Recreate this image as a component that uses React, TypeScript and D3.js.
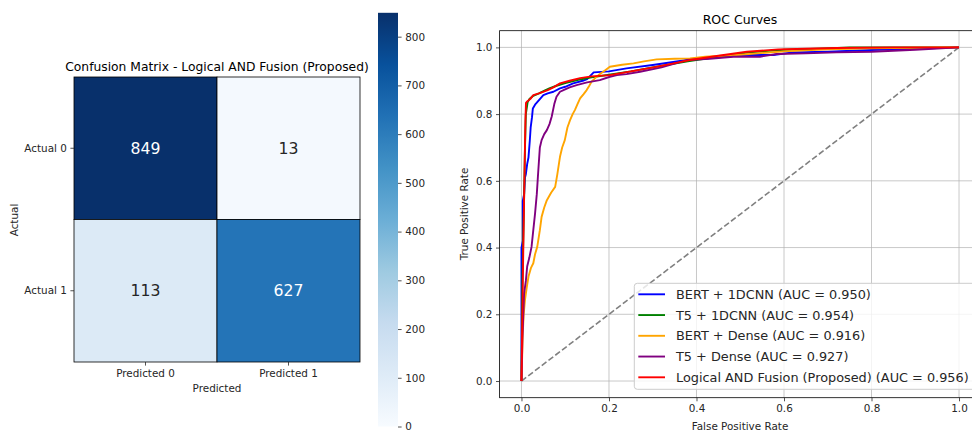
import { useEffect, useRef } from 'react';
import * as d3 from 'd3';

// Confusion matrix
const predLabels = ['Predicted 0', 'Predicted 1'];
const actualLabels = ['Actual 0', 'Actual 1'];
const cmValues = [
  [849, 13],
  [113, 627],
];
const cbTicks = [0, 100, 200, 300, 400, 500, 600, 700, 800];
const bluesStops = ['#f7fbff', '#deebf7', '#c6dbef', '#9ecae1', '#6baed6', '#4292c6', '#2171b5', '#08519c', '#08306b'];

// ROC curves
const rocNames = [
  'BERT + 1DCNN (AUC = 0.950)',
  'T5 + 1DCNN (AUC = 0.954)',
  'BERT + Dense (AUC = 0.916)',
  'T5 + Dense (AUC = 0.927)',
  'Logical AND Fusion (Proposed) (AUC = 0.956)',
];
const rocColors = ['#0000ff', '#008000', '#ffa500', '#800080', '#ff0000'];

const bertCnnFpr = [0, 0, 0.003, 0.003, 0.006, 0.008, 0.010, 0.013, 0.016, 0.019, 0.021, 0.024, 0.026, 0.032, 0.042, 0.05, 0.06, 0.073, 0.088, 0.1, 0.118, 0.14, 0.15, 0.165, 0.20, 0.24, 0.30, 0.378, 0.45, 0.515, 0.576, 0.62, 0.70, 0.80, 0.90, 1.0];
const bertCnnTpr = [0, 0.40, 0.42, 0.54, 0.56, 0.61, 0.62, 0.65, 0.67, 0.72, 0.76, 0.79, 0.817, 0.83, 0.845, 0.857, 0.862, 0.867, 0.877, 0.882, 0.892, 0.900, 0.905, 0.925, 0.928, 0.937, 0.947, 0.962, 0.97, 0.977, 0.977, 0.985, 0.987, 0.992, 0.996, 1.0];

const t5CnnFpr = [0, 0.002, 0.004, 0.006, 0.008, 0.010, 0.014, 0.018, 0.027, 0.04, 0.055, 0.065, 0.08, 0.1, 0.13, 0.16, 0.2, 0.25, 0.3, 0.38, 0.45, 0.52, 0.6, 0.68, 0.75, 0.85, 1.0];
const t5CnnTpr = [0, 0.30, 0.42, 0.55, 0.70, 0.80, 0.835, 0.845, 0.855, 0.862, 0.872, 0.878, 0.885, 0.893, 0.903, 0.91, 0.918, 0.928, 0.94, 0.958, 0.972, 0.985, 0.993, 0.996, 1.0, 1.0, 1.0];

const bertDenseFpr = [0, 0.003, 0.005, 0.008, 0.012, 0.016, 0.022, 0.027, 0.031, 0.036, 0.042, 0.046, 0.052, 0.058, 0.068, 0.077, 0.082, 0.088, 0.093, 0.099, 0.105, 0.111, 0.117, 0.122, 0.128, 0.134, 0.142, 0.149, 0.155, 0.160, 0.168, 0.176, 0.19, 0.202, 0.23, 0.256, 0.28, 0.309, 0.35, 0.385, 0.42, 0.5, 0.6, 0.7, 0.8, 0.9, 1.0];
const bertDenseTpr = [0, 0.143, 0.2, 0.243, 0.28, 0.313, 0.34, 0.353, 0.38, 0.402, 0.452, 0.492, 0.52, 0.542, 0.565, 0.582, 0.62, 0.672, 0.70, 0.722, 0.76, 0.782, 0.80, 0.812, 0.83, 0.847, 0.86, 0.872, 0.885, 0.897, 0.907, 0.917, 0.93, 0.942, 0.948, 0.952, 0.958, 0.964, 0.966, 0.967, 0.972, 0.978, 0.988, 0.994, 0.997, 0.999, 1.0];

const t5DenseFpr = [0, 0.002, 0.004, 0.006, 0.01, 0.013, 0.018, 0.023, 0.027, 0.031, 0.035, 0.038, 0.042, 0.046, 0.052, 0.058, 0.064, 0.069, 0.075, 0.080, 0.088, 0.096, 0.11, 0.126, 0.15, 0.179, 0.202, 0.218, 0.24, 0.271, 0.32, 0.378, 0.43, 0.484, 0.545, 0.583, 0.65, 0.72, 0.8, 0.9, 1.0];
const t5DenseTpr = [0, 0.12, 0.193, 0.263, 0.30, 0.343, 0.37, 0.402, 0.452, 0.502, 0.56, 0.622, 0.70, 0.722, 0.74, 0.752, 0.77, 0.792, 0.83, 0.852, 0.867, 0.872, 0.88, 0.887, 0.895, 0.902, 0.912, 0.917, 0.92, 0.927, 0.94, 0.962, 0.966, 0.972, 0.972, 0.980, 0.982, 0.985, 0.987, 0.993, 1.0];

const fusionFpr = [0, 0.003, 0.006, 0.009, 0.0103, 0.013, 0.02, 0.027, 0.04, 0.06, 0.073, 0.088, 0.11, 0.134, 0.16, 0.202, 0.25, 0.301, 0.385, 0.45, 0.515, 0.587, 0.65, 0.72, 0.85, 1.0];
const fusionTpr = [0, 0.3, 0.55, 0.78, 0.834, 0.838, 0.845, 0.857, 0.862, 0.872, 0.880, 0.892, 0.90, 0.908, 0.913, 0.917, 0.928, 0.940, 0.962, 0.975, 0.987, 0.994, 0.996, 0.998, 1.0, 1.0];

const rocFpr = [bertCnnFpr, t5CnnFpr, bertDenseFpr, t5DenseFpr, fusionFpr];
const rocTpr = [bertCnnTpr, t5CnnTpr, bertDenseTpr, t5DenseTpr, fusionTpr];
const rocTicks = [0, 0.2, 0.4, 0.6, 0.8, 1.0];

const FONT = '"DejaVu Sans", sans-serif';
const TXT = '#262626';

const App = () => {
  const svgRef = useRef(null);

  useEffect(() => {
    document.body.style.margin = '0';
    document.body.style.overflow = 'hidden';

    const svg = d3.select(svgRef.current);
    svg.selectAll('*').remove();
    svg.style('font-family', FONT);

    // ---------- Confusion matrix ----------
    const xBand = d3.scaleBand().domain(predLabels).range([74, 360]);
    const yBand = d3.scaleBand().domain(actualLabels).range([77, 362]);
    const vmax = d3.max(cmValues.flat());
    const color = d3.scaleLinear()
      .domain(d3.range(bluesStops.length).map(i => (i / (bluesStops.length - 1)) * vmax))
      .range(bluesStops);

    const cells = [];
    actualLabels.forEach((a, i) => predLabels.forEach((p, j) => cells.push({ a, p, v: cmValues[i][j] })));

    const hm = svg.append('g');
    hm.selectAll('rect')
      .data(cells)
      .enter()
      .append('rect')
      .attr('x', d => xBand(d.p))
      .attr('y', d => yBand(d.a))
      .attr('width', xBand.bandwidth())
      .attr('height', yBand.bandwidth())
      .attr('fill', d => color(d.v))
      .attr('stroke', '#000')
      .attr('stroke-width', 0.8);

    hm.selectAll('text.annot')
      .data(cells)
      .enter()
      .append('text')
      .attr('x', d => xBand(d.p) + xBand.bandwidth() / 2)
      .attr('y', d => yBand(d.a) + yBand.bandwidth() / 2)
      .attr('text-anchor', 'middle')
      .attr('dominant-baseline', 'central')
      .style('font-size', '15.7px')
      .style('fill', d => (d.v > vmax * 0.6 ? '#ffffff' : TXT))
      .text(d => d.v);

    // heatmap axes
    const hx = svg.append('g')
      .attr('transform', 'translate(0,362)')
      .call(d3.axisBottom(xBand).tickSize(3.6).tickPadding(3.6));
    const hy = svg.append('g')
      .attr('transform', 'translate(74,0)')
      .call(d3.axisLeft(yBand).tickSize(3.6).tickPadding(3.6));
    [hx, hy].forEach(ax => {
      ax.select('.domain').remove();
      ax.selectAll('.tick line').attr('stroke', TXT).attr('stroke-width', 0.8);
      ax.selectAll('text').style('font-size', '10.4px').style('fill', TXT).style('font-family', FONT);
    });

    svg.append('text')
      .attr('x', 217).attr('y', 71)
      .attr('text-anchor', 'middle')
      .style('font-size', '12.3px').style('fill', '#000')
      .text('Confusion Matrix - Logical AND Fusion (Proposed)');
    svg.append('text')
      .attr('x', 217).attr('y', 392)
      .attr('text-anchor', 'middle')
      .style('font-size', '10.4px').style('fill', TXT)
      .text('Predicted');
    svg.append('text')
      .attr('transform', 'translate(14,220) rotate(-90)')
      .attr('text-anchor', 'middle')
      .attr('dominant-baseline', 'central')
      .style('font-size', '10.4px').style('fill', TXT)
      .text('Actual');

    // colorbar
    const cbScale = d3.scaleLinear().domain([0, vmax]).range([426.5, 12.8]);
    const grad = svg.append('defs').append('linearGradient')
      .attr('id', 'cbgrad')
      .attr('x1', 0).attr('y1', 1).attr('x2', 0).attr('y2', 0);
    bluesStops.forEach((c, i) => {
      grad.append('stop').attr('offset', i / (bluesStops.length - 1)).attr('stop-color', c);
    });
    svg.append('rect')
      .attr('x', 378).attr('y', cbScale(vmax))
      .attr('width', 20).attr('height', cbScale(0) - cbScale(vmax))
      .attr('fill', 'url(#cbgrad)');
    const cbAx = svg.append('g')
      .attr('transform', 'translate(398,0)')
      .call(d3.axisRight(cbScale).tickValues(cbTicks).tickSize(3.6).tickPadding(3.6));
    cbAx.select('.domain').remove();
    cbAx.selectAll('.tick line').attr('stroke', TXT).attr('stroke-width', 0.8);
    cbAx.selectAll('text').style('font-size', '10.4px').style('fill', TXT).style('font-family', FONT);

    // ---------- ROC ----------
    const x = d3.scaleLinear().domain([-0.05, 1.05]).range([499.6, 980.9]);
    const y = d3.scaleLinear().domain([-0.05, 1.05]).range([397.7, 30.7]);
    const roc = svg.append('g');

    // grid
    roc.selectAll('line.gx')
      .data(rocTicks).enter().append('line')
      .attr('x1', d => x(d)).attr('x2', d => x(d))
      .attr('y1', y(-0.05)).attr('y2', y(1.05))
      .attr('stroke', '#b0b0b0').attr('stroke-opacity', 0.7).attr('stroke-width', 1);
    roc.selectAll('line.gy')
      .data(rocTicks).enter().append('line')
      .attr('y1', d => y(d)).attr('y2', d => y(d))
      .attr('x1', x(-0.05)).attr('x2', x(1.05))
      .attr('stroke', '#b0b0b0').attr('stroke-opacity', 0.7).attr('stroke-width', 1);

    // chance diagonal
    roc.append('line')
      .attr('x1', x(0)).attr('y1', y(0))
      .attr('x2', x(1)).attr('y2', y(1))
      .attr('stroke', '#808080')
      .attr('stroke-width', 1.6)
      .attr('stroke-dasharray', '5.9,2.6');

    const line = d3.line()
      .x(d => x(d[0]))
      .y(d => y(d[1]));

    rocNames.forEach((name, k) => {
      const pts = rocFpr[k].map((f, i) => [f, rocTpr[k][i]]);
      roc.append('path')
        .datum(pts)
        .attr('d', line)
        .attr('fill', 'none')
        .attr('stroke', rocColors[k])
        .attr('stroke-width', 1.9)
        .attr('stroke-linejoin', 'round');
    });

    // frame
    roc.append('rect')
      .attr('x', x(-0.05)).attr('y', y(1.05))
      .attr('width', x(1.05) - x(-0.05)).attr('height', y(-0.05) - y(1.05))
      .attr('fill', 'none').attr('stroke', '#000').attr('stroke-width', 0.8);

    const rx = svg.append('g')
      .attr('transform', `translate(0,${y(-0.05)})`)
      .call(d3.axisBottom(x).tickValues(rocTicks).tickFormat(d3.format('.1f')).tickSize(3.6).tickPadding(3.6));
    const ry = svg.append('g')
      .attr('transform', `translate(${x(-0.05)},0)`)
      .call(d3.axisLeft(y).tickValues(rocTicks).tickFormat(d3.format('.1f')).tickSize(3.6).tickPadding(3.6));
    [rx, ry].forEach(ax => {
      ax.select('.domain').remove();
      ax.selectAll('.tick line').attr('stroke', TXT).attr('stroke-width', 0.8);
      ax.selectAll('text').style('font-size', '10.4px').style('fill', TXT).style('font-family', FONT);
    });

    svg.append('text')
      .attr('x', 740).attr('y', 24.3)
      .attr('text-anchor', 'middle')
      .style('font-size', '12.5px').style('fill', '#000')
      .text('ROC Curves');
    svg.append('text')
      .attr('x', 740).attr('y', 430)
      .attr('text-anchor', 'middle')
      .style('font-size', '10.4px').style('fill', TXT)
      .text('False Positive Rate');
    svg.append('text')
      .attr('transform', 'translate(464,214) rotate(-90)')
      .attr('text-anchor', 'middle')
      .attr('dominant-baseline', 'central')
      .style('font-size', '10.4px').style('fill', TXT)
      .text('True Positive Rate');

    // legend
    const lg = svg.append('g').attr('transform', 'translate(634.3,283.3)');
    lg.append('rect')
      .attr('width', 342).attr('height', 106)
      .attr('rx', 3)
      .attr('fill', '#ffffff').attr('fill-opacity', 0.8)
      .attr('stroke', '#cccccc').attr('stroke-width', 1);
    const items = lg.selectAll('g.item')
      .data(rocNames)
      .enter().append('g')
      .attr('transform', (d, i) => `translate(0,${11 + i * 20.75})`);
    items.append('line')
      .attr('x1', 4).attr('x2', 30.7)
      .attr('stroke', (d, i) => rocColors[i])
      .attr('stroke-width', 1.9);
    items.append('text')
      .attr('x', 41.7)
      .attr('dominant-baseline', 'central')
      .style('font-size', '12.85px').style('fill', TXT)
      .text(d => d);
  }, []);

  return <svg ref={svgRef} width={972} height={434} style={{ display: 'block' }} />;
};

export default App;
